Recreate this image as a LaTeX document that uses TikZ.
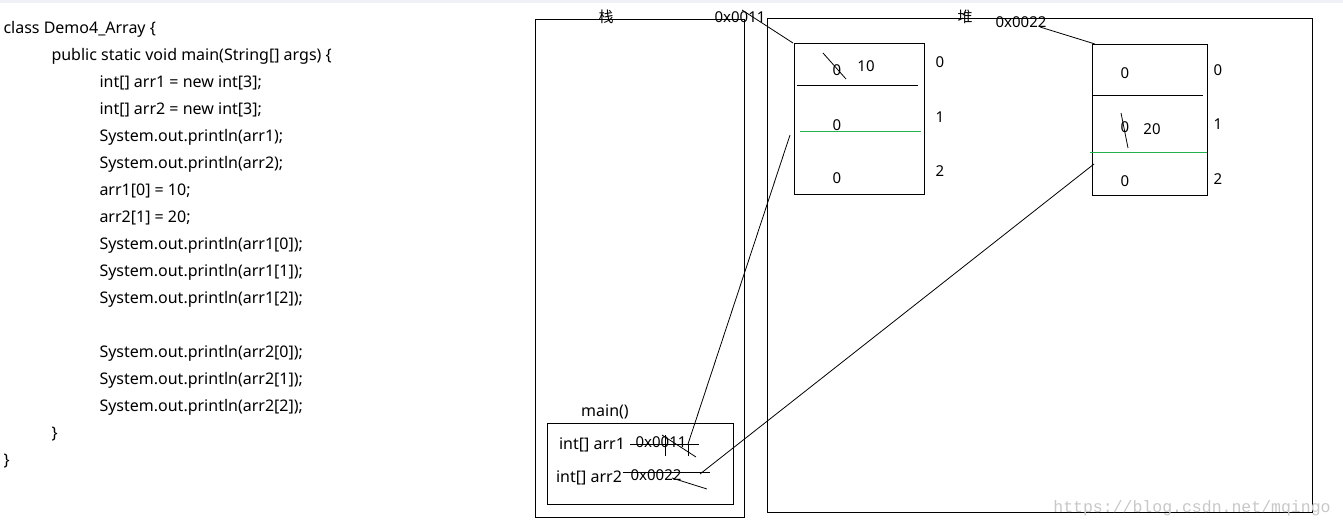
\documentclass[tikz,border=0pt]{standalone}
\usepackage{fontspec}
\setmainfont{Noto Sans}
\newfontfamily\cjk{Noto Sans CJK SC}
\newfontfamily\wmfont{Liberation Mono}
\definecolor{band}{HTML}{EEF1F5}
\definecolor{paintgreen}{HTML}{22B14C}
\definecolor{wmgray}{HTML}{C8C8C8}
\begin{document}
\begin{tikzpicture}[x=1pt,y=-1pt,line width=1pt,
  code/.style={anchor=base west,inner sep=0pt,font=\fontsize{16}{16}\selectfont},
  lbl/.style={inner sep=0pt,font=\fontsize{15}{15}\selectfont},
  biglbl/.style={inner sep=0pt,font=\fontsize{16}{16}\selectfont},
  cjklbl/.style={inner sep=0pt,font=\cjk\fontsize{15}{15}\selectfont},
  memframe/.style={draw,line width=1pt,inner sep=0pt,anchor=north west},
  scribble/.style={line width=0.8pt},
  wm/.style={inner sep=0pt,text=wmgray,font=\wmfont\fontsize{16.5}{16.5}\selectfont}]
\useasboundingbox (0,0) rectangle (1343,528);
\fill[white] (0,0) rectangle (1343,528);
\fill[band] (0,0) rectangle (1343,2.5);

% ---- code ----
\node[code] (c1)  at (3,33)   {class Demo4\_Array \{};
\node[code] (c2)  at (51,60)  {public static void main(String[] args) \{};
\node[code] (c3)  at (99,87)  {int[] arr1 = new int[3];};
\node[code] (c4)  at (99,114) {int[] arr2 = new int[3];};
\node[code] (c5)  at (99,141) {System.out.println(arr1);};
\node[code] (c6)  at (99,168) {System.out.println(arr2);};
\node[code] (c7)  at (99,195) {arr1[0] = 10;};
\node[code] (c8)  at (99,222) {arr2[1] = 20;};
\node[code] (c9)  at (99,249) {System.out.println(arr1[0]);};
\node[code] (c10) at (99,276) {System.out.println(arr1[1]);};
\node[code] (c11) at (99,303) {System.out.println(arr1[2]);};
\node[code] (c12) at (99,357) {System.out.println(arr2[0]);};
\node[code] (c13) at (99,384) {System.out.println(arr2[1]);};
\node[code] (c14) at (99,411) {System.out.println(arr2[2]);};
\node[code] (c15) at (51,438) {\}};
\node[code] (c16) at (3,465)  {\}};

% ---- stack and heap ----
\node[memframe,minimum width=209pt,minimum height=498pt] (stack) at (535,19) {};
\node[memframe,minimum width=545pt,minimum height=494pt] (heap) at (767,18) {};
\node[cjklbl] (stacklbl) at (606,17) {栈};
\node[cjklbl] (heaplbl) at (965,17) {堆};
\node[lbl] (addr1) at (740,17) {0x0011};
\node[lbl] (addr2) at (1021,22) {0x0022};

% ---- array 1 ----
\node[memframe,minimum width=130pt,minimum height=151pt] (arrA) at (794,43) {};
\draw (797,85) -- (918,85);
\draw[paintgreen] (800,131) -- (921,131);
\node[lbl] (a0) at (837,70) {0};
\node[lbl] (a0n) at (866,66) {10};
\node[lbl] (a1) at (837,125) {0};
\node[lbl] (a2) at (837,178) {0};
\node[lbl] (ai0) at (940,62) {0};
\node[lbl] (ai1) at (940,117) {1};
\node[lbl] (ai2) at (940,171) {2};
\draw[scribble] (823,53) -- (846,79);

% ---- array 2 ----
\node[memframe,minimum width=115pt,minimum height=151pt] (arrB) at (1092,44) {};
\draw (1092,95) -- (1203,95);
\draw[paintgreen] (1090,152) -- (1207,152);
\node[lbl] (b0) at (1125,73) {0};
\node[lbl] (b1) at (1125,127) {0};
\node[lbl] (b1n) at (1152,129) {20};
\node[lbl] (b2) at (1125,181) {0};
\node[lbl] (bi0) at (1218,70) {0};
\node[lbl] (bi1) at (1218,124) {1};
\node[lbl] (bi2) at (1218,179) {2};
\draw[scribble] (1121,113) -- (1128,148);

% ---- main frame ----
\node[memframe,minimum width=186pt,minimum height=81pt] (mainframe) at (547,423) {};
\node[biglbl] (mainlbl) at (605,412) {main()};
\node[biglbl] (v1) at (592,445) {int[] arr1};
\node[lbl] (p1) at (661,442) {0x0011};
\node[biglbl] (v2) at (589,478) {int[] arr2};
\node[lbl] (p2) at (656,475) {0x0022};

% scribbles in frame
\draw[scribble] (630,444) -- (699,444);
\draw[scribble] (665,435) -- (665,456);
\draw[scribble] (662,435) -- (696,457);
\draw[scribble] (688,444) -- (688,456);
\draw[scribble] (623,472) -- (710,472);
\draw[scribble] (672,478) -- (707,489);

% ---- connectors ----
\coordinate (r1s) at (742,10);
\coordinate (r1e) at (793,43);
\coordinate (r1b) at (790,135);
\coordinate (r1m) at (688,444);
\coordinate (r2s) at (1040,27);
\coordinate (r2e) at (1095,44);
\coordinate (r2b) at (1094,164);
\coordinate (r2m) at (700,474);
\draw[scribble] (r1s) -- (r1e);
\draw[scribble] (r1b) -- (r1m);
\draw[scribble] (r2s) -- (r2e);
\draw[scribble] (r2b) -- (r2m);

% ---- watermark ----
\node[wm] (wmark) at (1192,508) {https://blog.csdn.net/mqingo};
\end{tikzpicture}
\end{document}
